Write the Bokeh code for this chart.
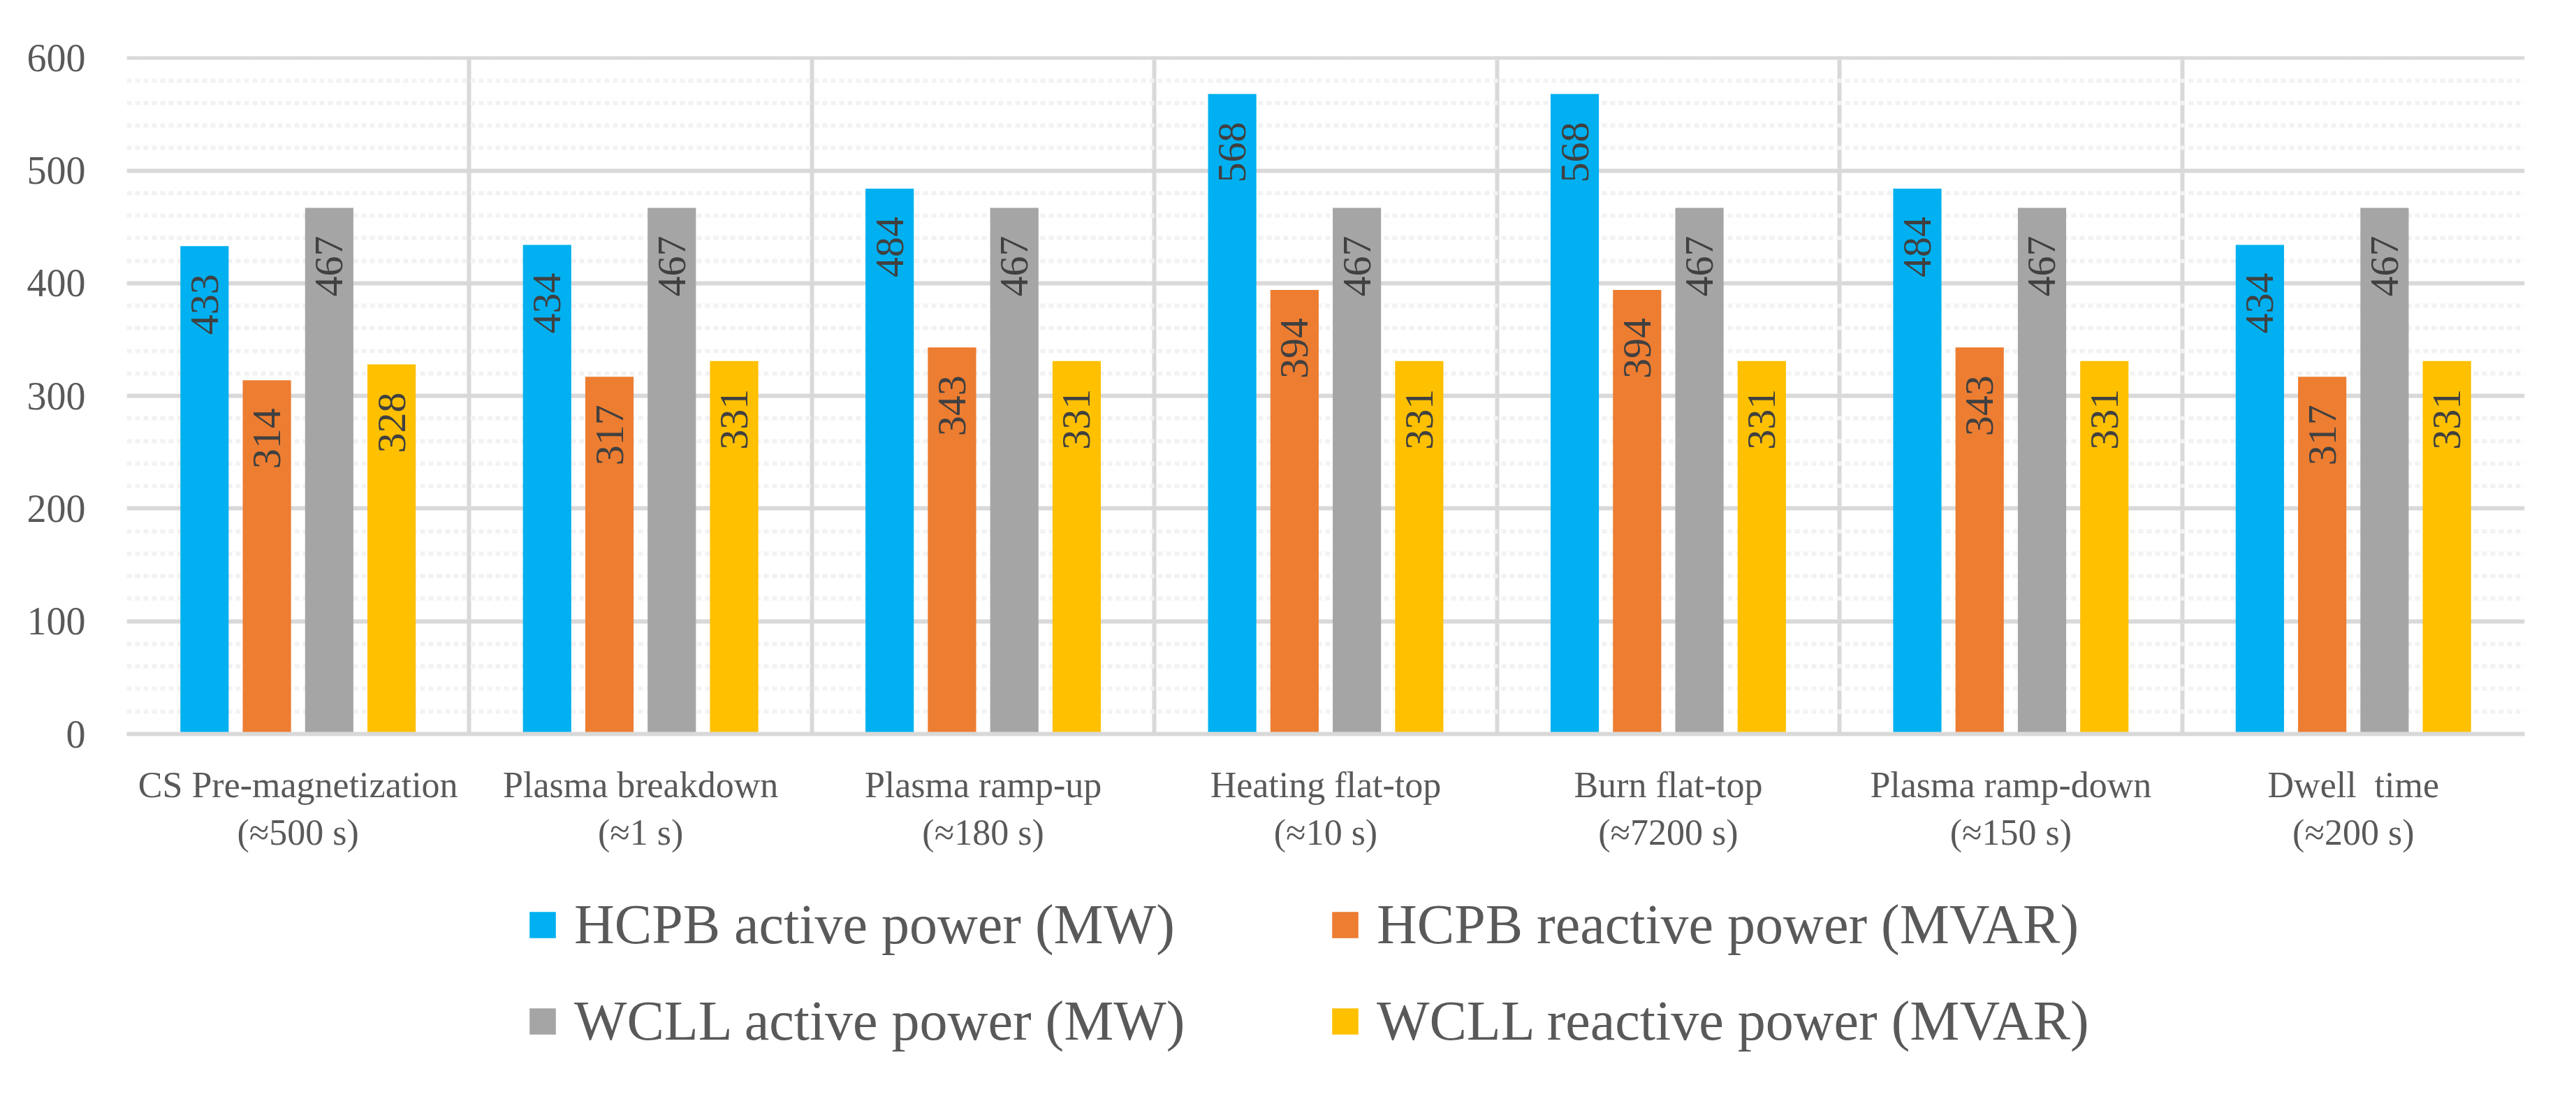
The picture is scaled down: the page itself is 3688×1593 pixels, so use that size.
import math
from bokeh.plotting import figure
from bokeh.layouts import column
from bokeh.models import (Range1d, FixedTicker, Legend, LegendItem,
                          ColumnDataSource)
from bokeh.transform import dodge
from bokeh.core.properties import value
from bokeh.embed import file_html
from bokeh.resources import INLINE

categories = [
    "CS Pre-magnetization\n(\u2248500 s)",
    "Plasma breakdown\n(\u22481 s)",
    "Plasma ramp-up\n(\u2248180 s)",
    "Heating flat-top\n(\u224810 s)",
    "Burn flat-top\n(\u22487200 s)",
    "Plasma ramp-down\n(\u2248150 s)",
    "Dwell\u00a0 time\n(\u2248200 s)",
]
series_names = [
    "HCPB active power (MW)",
    "HCPB reactive power (MVAR)",
    "WCLL active power (MW)",
    "WCLL reactive power (MVAR)",
]
hcpb_active = [433, 434, 484, 568, 568, 484, 434]
hcpb_reactive = [314, 317, 343, 394, 394, 343, 317]
wcll_active = [467, 467, 467, 467, 467, 467, 467]
wcll_reactive = [328, 331, 331, 331, 331, 331, 331]
y_ticks = [0, 100, 200, 300, 400, 500, 600]

series_values = [hcpb_active, hcpb_reactive, wcll_active, wcll_reactive]
colors = ["#00B0F0", "#ED7D31", "#A5A5A5", "#FFC000"]
offsets = [-0.273, -0.091, 0.091, 0.273]
bar_width = 0.141
FONT = "Liberation Serif"

xs = list(range(len(categories)))

BL, BR, BT, BB = 181, 40, 80, 180
FW, FH = 3433, 970

p = figure(frame_width=FW, frame_height=FH,
           x_range=Range1d(-0.5, len(categories) - 0.5),
           y_range=Range1d(y_ticks[0], y_ticks[-1] + 1.5),
           output_backend="svg", toolbar_location=None,
           min_border_left=BL, min_border_top=BT, min_border_right=BR,
           min_border_bottom=BB)
p.outline_line_color = None
p.background_fill_color = "white"
p.border_fill_color = "white"

sources = []
for name, vals, col, off in zip(series_names, series_values, colors, offsets):
    src = ColumnDataSource(dict(x=xs, top=vals, label=[str(v) for v in vals]))
    sources.append(src)
    p.vbar(x=dodge("x", off), top="top", bottom=0, width=bar_width,
           fill_color=col, line_color=None, source=src)
    p.text(x=dodge("x", off), y="top", text="label", source=src,
           angle=math.pi / 2, text_align="right", text_baseline="middle",
           y_offset=40, text_font=value(FONT), text_font_size="58px",
           text_color="#404040")

# y axis
p.yaxis.ticker = FixedTicker(ticks=y_ticks,
                             minor_ticks=list(range(0, 601, 20)))
p.yaxis.axis_line_color = None
p.yaxis.major_tick_line_color = None
p.yaxis.minor_tick_line_color = None
p.yaxis.major_tick_out = 0
p.yaxis.major_tick_in = 0
p.yaxis.minor_tick_out = 0
p.yaxis.major_label_standoff = 59
p.yaxis.major_label_text_font = FONT
p.yaxis.major_label_text_font_size = "56px"
p.yaxis.major_label_text_color = "#595959"

p.ygrid.grid_line_color = "#D9D9D9"
p.ygrid.grid_line_width = 6
p.ygrid.minor_grid_line_color = "#F2F2F2"
p.ygrid.minor_grid_line_width = 6
p.ygrid.minor_grid_line_dash = "7 5"

# x axis
p.xaxis.ticker = FixedTicker(ticks=xs)
p.xaxis.major_label_overrides = {i: c for i, c in zip(xs, categories)}
p.xaxis.axis_line_color = "#D9D9D9"
p.xaxis.axis_line_width = 6
p.xaxis.major_tick_line_color = None
p.xaxis.major_tick_out = 0
p.xaxis.major_tick_in = 0
p.xaxis.minor_tick_out = 0
p.xaxis.major_label_standoff = 44
p.xaxis.major_label_text_font = FONT
p.xaxis.major_label_text_font_size = "52px"
p.xaxis.major_label_text_color = "#595959"

p.xgrid.ticker = FixedTicker(ticks=[i - 0.5 for i in range(len(categories) + 1)])
p.xgrid.grid_line_color = "#D9D9D9"
p.xgrid.grid_line_width = 6

# legend panel (separate figure, same frame geometry, so nothing is clipped)
LH = 339
leg = figure(frame_width=FW, frame_height=LH,
             x_range=Range1d(-0.5, len(categories) - 0.5), y_range=Range1d(0, 1),
             output_backend="svg", toolbar_location=None,
             x_axis_location=None, y_axis_location=None,
             min_border_left=BL, min_border_right=BR,
             min_border_top=0, min_border_bottom=0)
leg.outline_line_color = None
leg.grid.visible = False
leg.background_fill_color = "white"
leg.border_fill_color = "white"

items = []
for name, col, src in zip(series_names, colors, sources):
    # zero-width, zero-height proxies: only used for the legend swatches
    r = leg.vbar(x="x", top=0, bottom=0, width=0, fill_color=col,
                 line_color=None, source=src)
    items.append(LegendItem(label=name, renderers=[r]))

legend = Legend(items=items, ncols=2, orientation="horizontal",
                location=(572, 62))
legend.label_text_font = FONT
legend.label_text_font_size = "80px"
legend.label_text_color = "#595959"
legend.glyph_width = 47
legend.glyph_height = 47
legend.label_standoff = 22
legend.label_width = 1033
legend.spacing = 47
legend.padding = 0
legend.margin = 0
legend.border_line_color = None
legend.background_fill_alpha = 0
leg.add_layout(legend, "center")

layout = column(p, leg, spacing=0)
open("out.html", "w").write(file_html(layout, INLINE))
